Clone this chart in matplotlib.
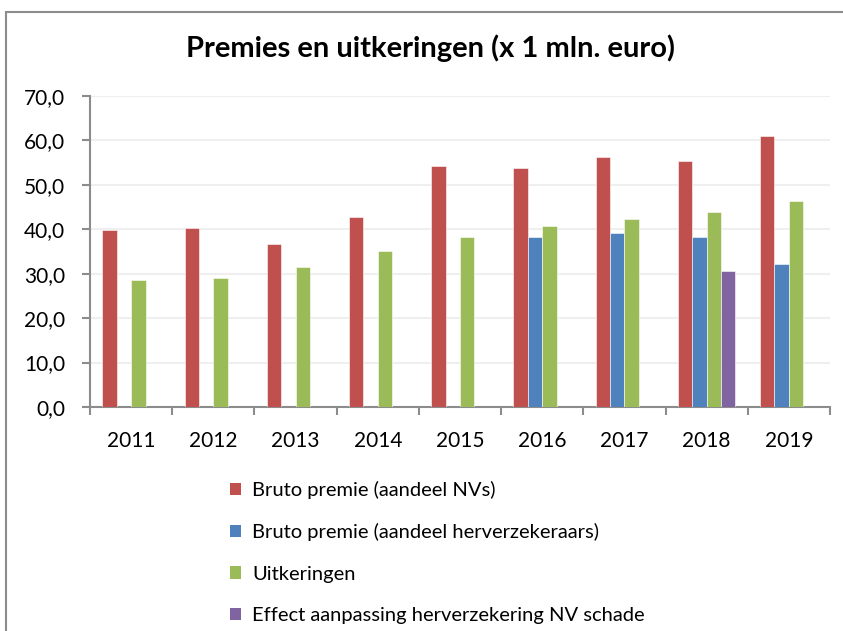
import numpy as np
import matplotlib
matplotlib.use("Agg")
import matplotlib.pyplot as plt
from matplotlib.patches import Rectangle, Patch
from matplotlib.ticker import FuncFormatter

years = ["2011", "2012", "2013", "2014", "2015", "2016", "2017", "2018", "2019"]
bruto_nv = [39.8, 40.3, 36.7, 42.8, 54.3, 53.8, 56.3, 55.3, 60.9]
bruto_herverz = [0, 0, 0, 0, 0, 38.3, 39.2, 38.3, 32.2]
uitkeringen = [28.6, 29.1, 31.6, 35.2, 38.3, 40.7, 42.3, 43.8, 46.3]
effect_nv = [0, 0, 0, 0, 0, 0, 0, 30.6, 0]

series_names = ["Bruto premie (aandeel NVs)",
                "Bruto premie (aandeel herverzekeraars)",
                "Uitkeringen",
                "Effect aanpassing herverzekering NV schade"]
colors = ["#C0504D", "#4F81BD", "#9BBB59", "#8064A2"]

plt.rcParams['font.family'] = ['Lato', 'DejaVu Sans']

W, H = 843, 631
fig = plt.figure(figsize=(W / 100, H / 100), dpi=100)

# outer chart border (cut off on right and bottom like the screenshot)
fig.patches.append(Rectangle((6 / W, -0.1), 1.2, 1 - 12 / H + 0.1,
                             transform=fig.transFigure, fill=False,
                             edgecolor="#8c8c8c", linewidth=1.5))

ax = fig.add_axes([90 / W, 1 - 407 / H, (830 - 90) / W, (407 - 96) / H])

x = np.arange(len(years))
bw = 0.175
for i, (vals, c) in enumerate(zip([bruto_nv, bruto_herverz, uitkeringen, effect_nv], colors)):
    ax.bar(x + (i - 1.5) * bw, vals, width=bw, color=c, edgecolor="white",
           linewidth=0.4, zorder=3)

ax.set_xlim(-0.5, len(years) - 0.5)
ax.set_ylim(0, 70)
ax.set_yticks(np.arange(0, 71, 10))
ax.yaxis.set_major_formatter(FuncFormatter(lambda v, p: f"{v:.1f}".replace(".", ",")))
ax.grid(axis="y", color="#efefef", linewidth=1.5, zorder=0)
ax.set_xticks(x)
ax.set_xticklabels(years)
ax.set_xticks(np.arange(-0.5, len(years)), minor=True)
ax.tick_params(axis="x", which="major", length=0, pad=17, labelsize=15)
ax.tick_params(axis="x", which="minor", length=6, width=1.5, color="#8c8c8c")
ax.tick_params(axis="y", length=6, width=1.5, color="#8c8c8c", labelsize=15, pad=12)

for s in ["top", "right"]:
    ax.spines[s].set_visible(False)
for s in ["left", "bottom"]:
    ax.spines[s].set_color("#8c8c8c")
    ax.spines[s].set_linewidth(1.5)

fig.text(430 / W, 1 - 48 / H, "Premies en uitkeringen (x 1 mln. euro)",
         ha="center", va="center", fontsize=21, fontweight="bold")

handles = [Patch(facecolor=c, edgecolor="none") for c in colors]
fig.legend(handles, series_names, loc="upper left",
           bbox_to_anchor=(212 / W, 1 - 463 / H), frameon=False,
           fontsize=14.5, handlelength=0.55, handleheight=0.55,
           handletextpad=0.55, labelspacing=1.2)

fig.savefig("out.png", dpi=100)
